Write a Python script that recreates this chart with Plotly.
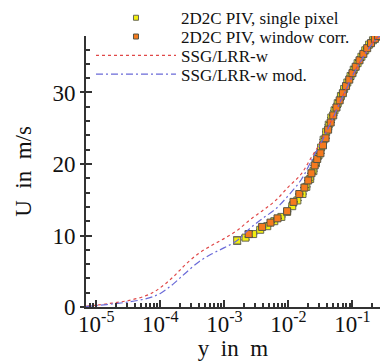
import plotly.graph_objects as go

# --- data (x given as log10(y [m])) ---
ssg_logy = [-5.16, -5.0, -4.75, -4.5, -4.25, -4.1, -4.0, -3.9, -3.8, -3.7, -3.6, -3.4, -3.2, -3.0,
            -2.8, -2.6, -2.4, -2.2, -2.0, -1.8, -1.65, -1.5, -1.4, -1.3, -1.2, -1.1, -1.0,
            -0.9, -0.8, -0.7, -0.6, -0.5]
ssg_u = [0.1, 0.25, 0.55, 0.9, 1.5, 2.1, 2.7, 3.4, 4.2, 5.1, 6.0, 7.5, 8.6, 9.6,
         10.7, 12.2, 13.5, 14.9, 16.8, 18.6, 20.8, 23.0, 24.8, 26.6, 28.6, 30.5, 32.4,
         34.0, 35.5, 36.8, 37.8, 38.5]

mod_logy = [-5.16, -5.0, -4.75, -4.5, -4.25, -4.1, -4.0, -3.9, -3.8, -3.7, -3.6, -3.4, -3.2, -3.0,
            -2.8, -2.6, -2.4, -2.2, -2.0, -1.8, -1.65, -1.5, -1.4, -1.3, -1.2, -1.1, -1.0,
            -0.9, -0.8, -0.7, -0.6, -0.5]
mod_u = [0.05, 0.2, 0.42, 0.7, 1.1, 1.5, 1.9, 2.5, 3.2, 4.0, 4.8, 6.3, 7.4, 8.3,
         9.3, 11.0, 12.4, 13.7, 15.6, 17.8, 20.3, 22.8, 24.6, 26.5, 28.5, 30.4, 32.3,
         33.9, 35.4, 36.7, 37.7, 38.4]

sp_logy = [-2.80, -2.67, -2.55, -2.44, -2.33, -2.22, -2.11, -2.02, -1.94, -1.86, -1.78,
           -1.72, -1.66, -1.61, -1.57, -1.53, -1.49, -1.45, -1.41, -1.37, -1.33, -1.28,
           -1.23, -1.18, -1.13, -1.08, -1.03, -0.98, -0.92, -0.86, -0.80, -0.74, -0.68, -0.62]
sp_u = [9.3, 9.7, 10.2, 10.8, 11.3, 12.0, 12.6, 13.3, 14.1, 14.9, 15.8,
        16.8, 17.9, 19.0, 20.1, 21.2, 22.3, 23.4, 24.5, 25.5, 26.5, 27.5,
        28.5, 29.5, 30.5, 31.4, 32.3, 33.2, 34.1, 35.0, 35.9, 36.7, 37.3, 37.8]
sp_err = [0.5, 0.3] + [0] * 32

wc_logy = [-2.62, -2.41, -2.28, -2.17, -2.02, -1.92, -1.83, -1.75, -1.69, -1.64, -1.59,
           -1.55, -1.50, -1.46, -1.42, -1.38, -1.34, -1.30, -1.25, -1.20, -1.15, -1.10,
           -1.05, -1.00, -0.95, -0.89, -0.83, -0.77, -0.71, -0.65, -0.60]
wc_u = [10.2, 11.2, 11.8, 12.4, 13.4, 14.7, 15.8, 16.7, 17.7, 18.7, 19.8,
        20.7, 21.5, 22.6, 23.6, 24.8, 25.8, 26.8, 27.9, 28.9, 29.9, 30.9,
        31.8, 32.7, 33.6, 34.5, 35.4, 36.2, 36.9, 37.5, 37.9]
wc_err = [0.4] + [0] * 30

x_tickvals = [1e-5, 1e-4, 1e-3, 1e-2, 1e-1]
x_ticktext = ["10<sup>-5</sup>", "10<sup>-4</sup>", "10<sup>-3</sup>", "10<sup>-2</sup>", "10<sup>-1</sup>"]

names = ["2D2C PIV, single pixel", "2D2C PIV, window corr.", "SSG/LRR-w", "SSG/LRR-w mod."]


def tolin(l):
    return [10 ** v for v in l]


FONT = "Liberation Serif, Times New Roman, serif"
AX = "#333333"
Y_RANGE = [0, 37.9]

sp_marker = dict(symbol="square", color="#f2ee10", line=dict(color="#666655", width=1))
wc_marker = dict(symbol="square", color="#f57a1e", line=dict(color="#555544", width=1))
ssg_line = dict(color="#e04848", width=1.2, dash="3px,3px")
mod_line = dict(color="#6a6ad8", width=1.2, dash="7px,3px,2px,3px")

fig = go.Figure()
fig.add_trace(go.Scatter(
    x=tolin(sp_logy), y=sp_u, mode="markers", showlegend=False,
    marker=dict(size=7, **sp_marker),
    error_y=dict(type="data", array=sp_err, visible=True, color="#111", thickness=1, width=4)))
fig.add_trace(go.Scatter(
    x=tolin(wc_logy), y=wc_u, mode="markers", showlegend=False,
    marker=dict(size=7, **wc_marker),
    error_y=dict(type="data", array=wc_err, visible=True, color="#111", thickness=1, width=4)))
fig.add_trace(go.Scatter(
    x=tolin(ssg_logy), y=ssg_u, mode="lines", showlegend=False, line_shape="spline",
    line=ssg_line))
fig.add_trace(go.Scatter(
    x=tolin(mod_logy), y=mod_u, mode="lines", showlegend=False, line_shape="spline",
    line=mod_line))

# legend-only entries (one legend per entry for exact placement)
fig.add_trace(go.Scatter(x=[None], y=[None], mode="markers", name=names[0],
                         marker=dict(size=5, **sp_marker), legend="legend"))
fig.add_trace(go.Scatter(x=[None], y=[None], mode="markers", name=names[1],
                         marker=dict(size=5, **wc_marker), legend="legend2"))
fig.add_trace(go.Scatter(x=[None], y=[None], mode="lines", name=names[2],
                         line=ssg_line, legend="legend3"))
fig.add_trace(go.Scatter(x=[None], y=[None], mode="lines", name=names[3],
                         line=mod_line, legend="legend4"))
# invisible trace for overlay axis (inside ticks)
fig.add_trace(go.Scatter(x=[None], y=[None], yaxis="y2", showlegend=False, hoverinfo="skip"))

leg_common = dict(x=0.017, xanchor="left", yanchor="middle", bgcolor="rgba(0,0,0,0)",
                  font=dict(family=FONT, size=17, color="#111"), itemwidth=80,
                  borderwidth=0)

fig.update_layout(
    width=380, height=361,
    margin=dict(l=86, r=0, t=33, b=54),
    paper_bgcolor="white", plot_bgcolor="white",
    font=dict(family=FONT, color="#111", size=22),
    showlegend=True,
    legend=dict(y=1.0657, **leg_common),
    legend2=dict(y=0.9964, **leg_common),
    legend3=dict(y=0.927, **leg_common),
    legend4=dict(y=0.8577, **leg_common),
    xaxis=dict(
        type="log", range=[-5.16, -0.57], showgrid=False, zeroline=False,
        showline=True, linecolor=AX, linewidth=2, mirror=False,
        ticks="inside", ticklen=7, tickwidth=1.5, tickcolor=AX,
        tickvals=x_tickvals, ticktext=x_ticktext, tickangle=0,
        ticklabelstandoff=-5,
        tickfont=dict(family=FONT, size=23, color="#111"),
        minor=dict(ticks="inside", ticklen=4, tickcolor=AX, dtick="D1", showgrid=False),
        title=dict(text="y\u00a0\u00a0in\u00a0\u00a0m", font=dict(family=FONT, size=23), standoff=2),
    ),
    yaxis=dict(
        range=Y_RANGE, showgrid=False, zeroline=False,
        showline=True, linecolor=AX, linewidth=2, mirror=False,
        ticks="outside", ticklen=4, tickwidth=1.5, tickcolor=AX,
        dtick=10, tick0=0,
        tickfont=dict(family=FONT, size=23, color="#111"),
        title=dict(text="U\u00a0\u00a0in\u00a0\u00a0m/s", font=dict(family=FONT, size=23), standoff=14),
    ),
    yaxis2=dict(
        range=Y_RANGE, overlaying="y", side="left", showgrid=False, zeroline=False,
        showline=False, showticklabels=False,
        ticks="inside", ticklen=6, tickwidth=1.5, tickcolor=AX, dtick=10, tick0=0,
        minor=dict(ticks="inside", ticklen=4, tickcolor=AX, dtick=2, showgrid=False),
    ),
)

fig.write_html("out.html")
